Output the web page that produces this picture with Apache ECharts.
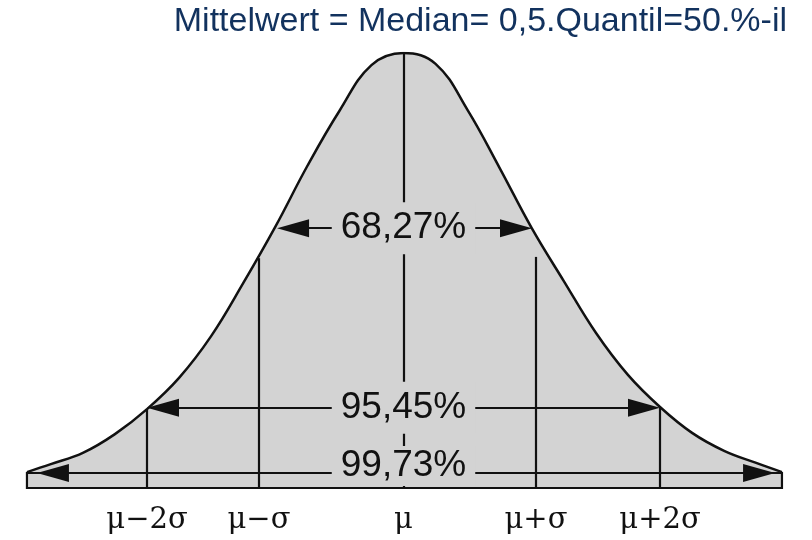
<!DOCTYPE html>
<html>
<head>
<meta charset="utf-8">
<script src="https://cdn.jsdelivr.net/npm/echarts@6/dist/echarts.min.js"></script>
<style>
html, body { margin: 0; padding: 0; background: #fff; }
#app { width: 812px; height: 540px; }
</style>
</head>
<body>
<div id="app"></div>
<script>
// Glockenkurve: x in σ-Einheiten (μ = 0), Höhe relativ zum Maximum
const curveX = [-2.936, -2.75, -2.5, -2.25, -2.0, -1.75, -1.5, -1.25, -1.0, -0.75, -0.5, -0.25, 0,
    0.25, 0.5, 0.75, 1.0, 1.25, 1.5, 1.75, 2.0, 2.25, 2.5, 2.75, 2.951];
const curveY = [-0.005, 0.014, 0.041, 0.086, 0.146, 0.221, 0.321, 0.448, 0.583, 0.729, 0.861, 0.971, 1.0,
    0.974, 0.863, 0.724, 0.580, 0.453, 0.329, 0.228, 0.151, 0.089, 0.046, 0.017, -0.005];

// senkrechte Linien bei μ±kσ
const sigmaX = [-2, -1.127, 0, 1.033, 2];
const sigmaTop = [0.146, 0.508, 1.0, 0.511, 0.151];
const sigmaLabels = ['μ−2σ', 'μ−σ', 'μ', 'μ+σ', 'μ+2σ'];

// Pfeile mit Anteilen
const bandText = ['68,27%', '95,45%', '99,73%'];
const bandY = [0.580, 0.149, -0.0072];
const bandLeft = [-0.986, -2.0, -2.858];
const bandRight = [1.002, 2.0, 2.897];
const bandTextY = [0.580, 0.149, 0.0096];

// Sockel unter der Kurve
const baseLeft = -2.936;
const baseRight = 2.951;
const yMin = -0.0432;

const titleText = 'Mittelwert = Median= 0,5.Quantil=50.%-il';

const ink = '#111';
const fill = '#d3d3d3';
const pxPerUnit = 769.5 / 6;
const head = 16 / pxPerUnit; // halbe Pfeilspitze

const myChart = echarts.init(document.getElementById('app'));

const option = {
    animation: false,
    title: {
        text: titleText,
        right: 20,
        top: 0,
        textStyle: {
            fontFamily: 'Liberation Sans',
            fontSize: 34,
            fontWeight: 'normal',
            color: '#12325e'
        }
    },
    grid: { left: 18.75, right: 23.75, top: 53, bottom: 52 },
    xAxis: {
        type: 'value',
        min: -3,
        max: 3,
        axisLine: { show: false },
        axisTick: { show: false },
        splitLine: { show: false },
        axisLabel: {
            customValues: sigmaX,
            formatter: v => sigmaLabels[sigmaX.indexOf(v)],
            fontFamily: 'DejaVu Serif',
            fontSize: 29,
            color: ink,
            margin: 18
        }
    },
    yAxis: {
        type: 'value',
        min: yMin,
        max: 1,
        show: false
    },
    series: [{
        type: 'line',
        z: 2,
        smooth: 0.4,
        symbol: 'none',
        data: curveX.map((x, i) => [x, curveY[i]]),
        lineStyle: { color: ink, width: 2.5 },
        areaStyle: { color: fill, opacity: 1, origin: 'start' },
        markArea: {
            z: 4,
            silent: true,
            itemStyle: { color: 'rgba(0,0,0,0)', borderColor: ink, borderWidth: 2.2 },
            data: [[{ coord: [baseLeft, bandY[2]] }, { coord: [baseRight, yMin] }]]
        },
        markLine: {
            z: 3,
            silent: true,
            symbol: 'none',
            label: { show: false },
            lineStyle: { color: ink, width: 2.2, type: 'solid' },
            data: sigmaX.map((x, i) => [{ coord: [x, yMin] }, { coord: [x, sigmaTop[i]] }])
        }
    }, {
        type: 'scatter',
        z: 10,
        symbolSize: 0,
        silent: true,
        itemStyle: { opacity: 1 },
        data: bandText.map((t, i) => ({
            value: [0, bandTextY[i], t],
            label: { padding: i === 2 ? [2, 9, 2, 9] : [9, 9, 7, 9] }
        })),
        label: {
            show: true,
            position: 'inside',
            formatter: p => p.value[2],
            fontFamily: 'Liberation Sans',
            fontSize: 37,
            lineHeight: 36,
            color: ink,
            opacity: 1,
            textBorderWidth: 0,
            backgroundColor: fill
        },
        markLine: {
            z: 3,
            silent: true,
            symbol: ['triangle', 'triangle'],
            symbolSize: [18, 32],
            label: { show: false },
            lineStyle: { color: ink, width: 2.2, type: 'solid' },
            itemStyle: { color: ink },
            data: bandText.map((t, i) => [
                { coord: [bandLeft[i] + head, bandY[i]] },
                { coord: [bandRight[i] - head, bandY[i]] }
            ])
        }
    }]
};

myChart.setOption(option);
</script>
</body>
</html>
